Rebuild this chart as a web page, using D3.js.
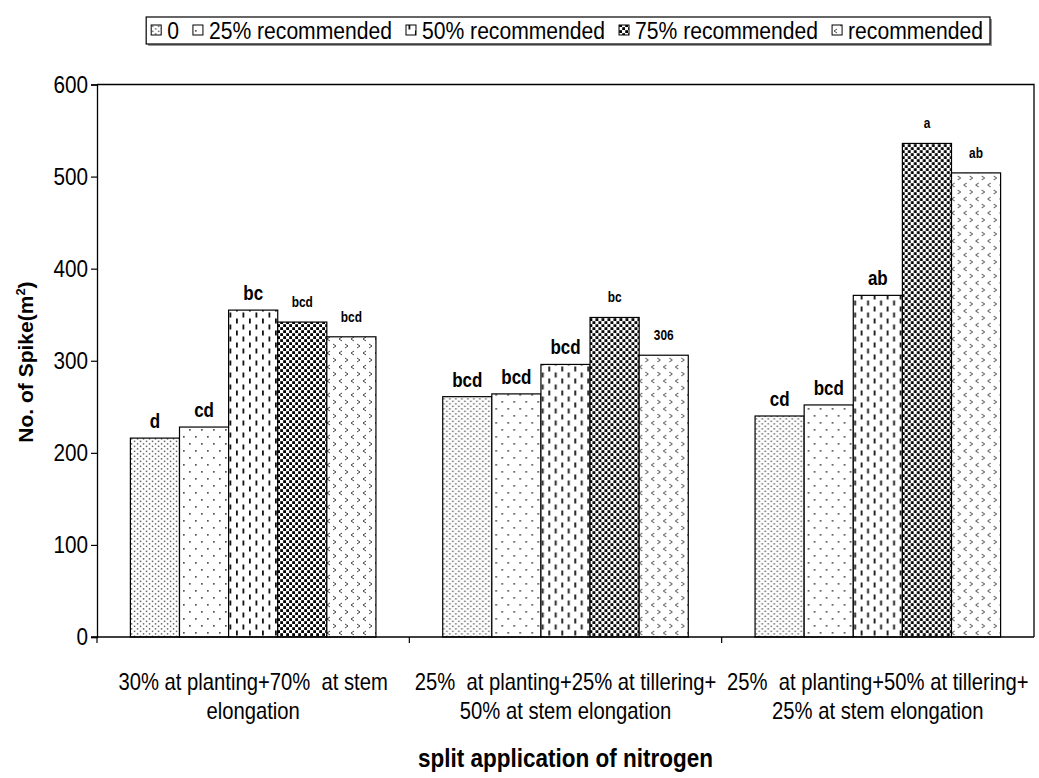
<!DOCTYPE html>
<html><head><meta charset="utf-8">
<script src="https://cdn.jsdelivr.net/npm/d3@7/dist/d3.min.js"></script>
<style>body{margin:0;background:#fff} text{white-space:pre}</style>
</head><body>
<svg id="chart" width="1039" height="778"></svg>
<script>
// ---- data ----
const categories = ["g1", "g2", "g3"];
const categoryLines = [
  ["30% at planting+70%  at stem", "elongation"],
  ["25%  at planting+25% at tillering+", "50% at stem elongation"],
  ["25%  at planting+50% at tillering+", "25% at stem elongation"]
];
const seriesNames = ["0", "25% recommended", "50% recommended", "75% recommended", "recommended"];
const values0   = [216, 261, 240];
const values25  = [228, 264, 252];
const values50  = [355, 296, 371];
const values75  = [342, 347, 536];
const values100 = [326, 306, 504];
const labels0   = ["d", "bcd", "cd"];
const labels25  = ["cd", "bcd", "bcd"];
const labels50  = ["bc", "bcd", "ab"];
const labels75  = ["bcd", "bc", "a"];
const labels100 = ["bcd", "306", "ab"];
const yTicks = [0, 100, 200, 300, 400, 500, 600];
const yTitle = "No. of Spike(m";
const xTitle = "split application of nitrogen";

const seriesValues = [values0, values25, values50, values75, values100];
const seriesLabels = [labels0, labels25, labels50, labels75, labels100];

// ---- layout ----
const FONT = "'Liberation Sans',Arial,sans-serif";
const L = 97, R = 1034, T = 84.5, B = 637;
const svg = d3.select("#chart");

const x0 = d3.scaleBand().domain(categories).range([L, R]).padding(0);
const x1 = d3.scaleBand().domain(d3.range(seriesNames.length))
  .range([0, x0.bandwidth()]).paddingOuter(0.68).paddingInner(0);
const y = d3.scaleLinear().domain([0, 600]).range([B, T]);

// condensed text helper (horizontal squeeze like the original picture)
function sText(parent, x, yy, sx, size, anchor, bold) {
  return parent.append("g").attr("transform", `translate(${x},${yy}) scale(${sx},1)`)
    .append("text").attr("text-anchor", anchor).attr("font-family", FONT)
    .attr("font-size", size).attr("font-weight", bold ? "bold" : "normal").attr("fill", "#000")
    .attr("xml:space", "preserve");
}

// ---- patterns ----
const defs = svg.append("defs");
function pat(id, w, h, build) {
  const p = defs.append("pattern").attr("id", id).attr("patternUnits", "userSpaceOnUse")
    .attr("width", w).attr("height", h);
  p.append("rect").attr("width", w).attr("height", h).attr("fill", "#fff");
  build(p);
}
pat("p0", 6, 5, p => {
  p.append("rect").attr("x", 0.8).attr("y", 0.6).attr("width", 1.5).attr("height", 1.5).attr("fill", "#666");
  p.append("rect").attr("x", 3.8).attr("y", 3.1).attr("width", 1.5).attr("height", 1.5).attr("fill", "#666");
});
pat("p1", 12, 14, p => {
  p.append("rect").attr("x", 2).attr("y", 2).attr("width", 1.7).attr("height", 1.7).attr("fill", "#555");
  p.append("rect").attr("x", 8).attr("y", 9).attr("width", 1.7).attr("height", 1.7).attr("fill", "#555");
});
pat("p2", 13, 12, p => {
  p.append("rect").attr("x", 2.5).attr("y", 0.5).attr("width", 1.8).attr("height", 5).attr("fill", "#111");
  p.append("rect").attr("x", 9).attr("y", 6.5).attr("width", 1.8).attr("height", 5).attr("fill", "#111");
});
pat("p3", 6, 6, p => {
  p.append("rect").attr("x", 0.2).attr("y", 0.2).attr("width", 2.8).attr("height", 2.8).attr("fill", "#000");
  p.append("rect").attr("x", 3.2).attr("y", 3.2).attr("width", 2.8).attr("height", 2.8).attr("fill", "#000");
});
pat("p4", 12, 14, p => {
  p.append("path").attr("d", "M5,1 L2,3 L5,5").attr("fill", "none").attr("stroke", "#444").attr("stroke-width", 1);
  p.append("path").attr("d", "M8,8 L11,10 L8,12").attr("fill", "none").attr("stroke", "#444").attr("stroke-width", 1);
});
const patIds = ["p0", "p1", "p2", "p3", "p4"];

// ---- frame ----
svg.append("path").attr("d", `M${L},${T}H${R}V${B}`).attr("fill", "none").attr("stroke", "#000").attr("stroke-width", 1.3);

// ---- bars ----
const groups = svg.append("g").selectAll("g").data(categories).join("g")
  .attr("transform", c => `translate(${x0(c)},0)`);
groups.selectAll("rect").data((c, ci) => seriesValues.map((s, si) => ({si, v: s[ci]})))
  .join("rect")
  .attr("x", d => x1(d.si)).attr("width", x1.bandwidth())
  .attr("y", d => y(d.v)).attr("height", d => y(0) - y(d.v))
  .attr("fill", d => `url(#${patIds[d.si]})`)
  .attr("stroke", "#000").attr("stroke-width", 1.2);

const labG = svg.append("g");
categories.forEach((c, ci) => {
  seriesLabels.forEach((s, si) => {
    const v = seriesValues[si][ci];
    const small = si >= 3;
    sText(labG, x0(c) + x1(si) + x1.bandwidth() / 2, y(v) - (small ? 15 : 10), 0.85,
      small ? 14 : 20, "middle", true).text(s[ci]);
  });
});

// ---- axes ----
const yAxis = svg.append("g").attr("transform", `translate(${L},0)`)
  .call(d3.axisLeft(y).tickValues(yTicks).tickSize(6).tickFormat(""));
yAxis.select(".domain").attr("stroke", "#000").attr("stroke-width", 1.3);
yAxis.selectAll("line").attr("stroke", "#000").attr("stroke-width", 1.2);
const yLab = svg.append("g");
yTicks.forEach(t => sText(yLab, L - 9, y(t) + 8, 0.9, 23, "end", false).text(d3.format("d")(t)));

const xAxis = svg.append("g").attr("transform", `translate(0,${B})`)
  .call(d3.axisBottom(x0).tickValues([]).tickSizeOuter(0));
xAxis.select(".domain").attr("stroke", "#000").attr("stroke-width", 1.3).attr("d", `M${L - 6},0H${R}`);
const bounds = categories.map(c => x0(c));
xAxis.selectAll("line.sep").data(bounds).join("line").attr("class", "sep")
  .attr("x1", d => d).attr("x2", d => d).attr("y1", 0).attr("y2", 6)
  .attr("stroke", "#000").attr("stroke-width", 1.2);

const catG = svg.append("g");
categories.forEach((c, i) => {
  categoryLines[i].forEach((line, k) => {
    sText(catG, x0(c) + x0.bandwidth() / 2, 690 + k * 29, 0.88, 23, "middle", false).text(line);
  });
});

// ---- titles ----
const yt = svg.append("text").attr("transform", "translate(33,362) rotate(-90)")
  .attr("text-anchor", "middle").attr("font-family", FONT).attr("font-weight", "bold").attr("font-size", 21);
yt.append("tspan").text(yTitle);
yt.append("tspan").attr("font-size", 13).attr("dy", -8).text("2");
yt.append("tspan").attr("dy", 8).text(")");

sText(svg, (L + R) / 2, 767, 0.9, 25, "middle", true).text(xTitle);

// ---- legend ----
const LSX = 0.88;
const leg = svg.append("g");
const legItems = leg.selectAll("g").data(seriesNames).join("g");
legItems.append("rect").attr("width", 10).attr("height", 10).attr("y", 25)
  .attr("fill", (d, i) => `url(#${patIds[i]})`).attr("stroke", "#000").attr("stroke-width", 1);
legItems.append("g").attr("transform", `translate(16,39) scale(${LSX},1)`)
  .append("text").attr("font-family", FONT).attr("font-size", 24).text(d => d);
let cx = 0;
legItems.each(function() {
  d3.select(this).attr("transform", `translate(${cx},0)`);
  cx += 16 + d3.select(this).select("text").node().getComputedTextLength() * LSX + 14;
});
const legW = cx - 14;
const legRight = 990, legLeft = legRight - legW - 12;
leg.attr("transform", `translate(${legLeft + 5},0)`);
svg.insert("rect", "g").attr("x", legLeft + 2).attr("y", 19).attr("width", legW + 12).attr("height", 27).attr("fill", "#999");
svg.insert("rect", "g").attr("x", legLeft).attr("y", 17).attr("width", legW + 12).attr("height", 27)
  .attr("fill", "#fff").attr("stroke", "#000").attr("stroke-width", 1.2);
</script>
</body></html>
